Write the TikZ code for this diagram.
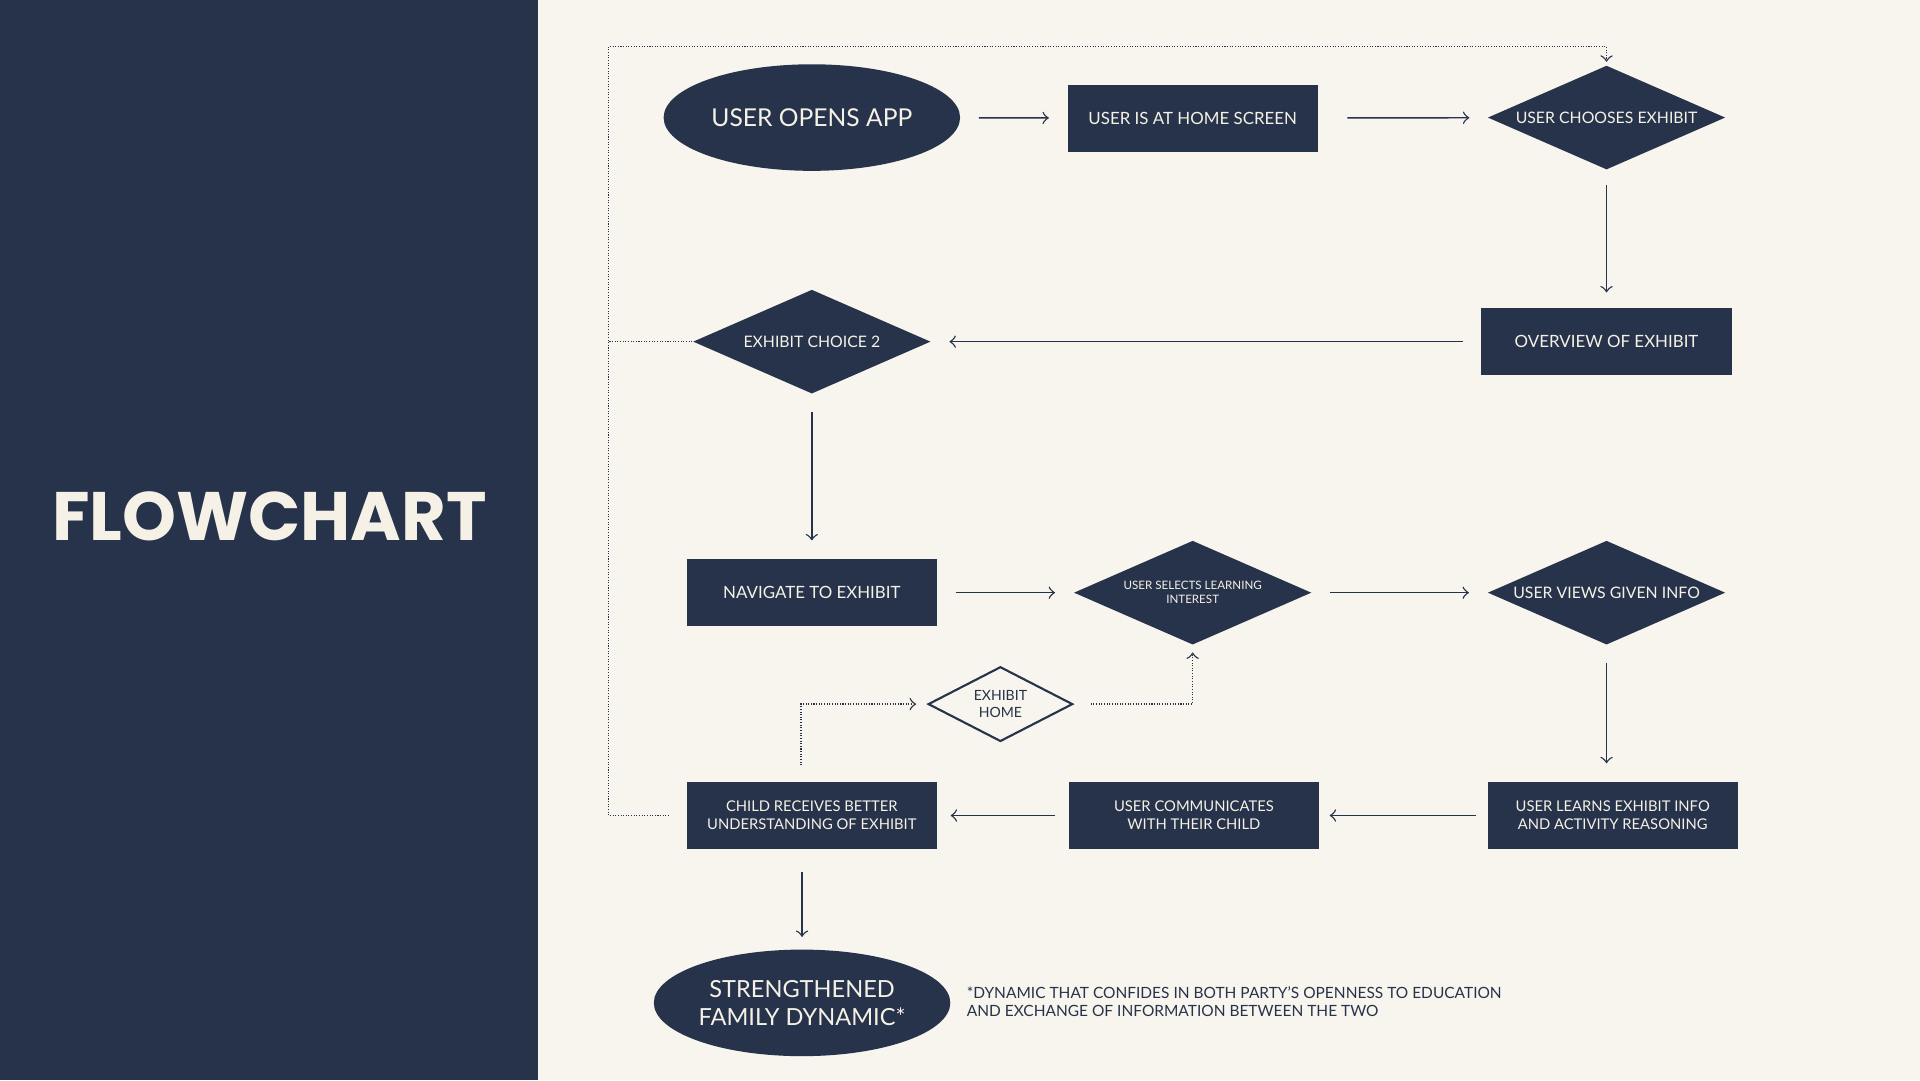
\documentclass[tikz,border=0pt]{standalone}
\usepackage{fontspec}
\setmainfont{Lato}
\newfontfamily\titlefont{Poppins}
\usetikzlibrary{shapes.geometric}
\definecolor{navy}{HTML}{26334A}
\definecolor{paper}{HTML}{F8F5EE}
\definecolor{chalk}{HTML}{F6F1E7}
\tikzset{
  box/.style={rectangle, fill=navy, text=chalk, minimum width=2.5cm, minimum height=0.67cm, inner sep=0pt, align=center, font=\fontsize{4.8}{5.8}\selectfont},
  smallbox/.style={box, font=\fontsize{4.2}{5.05}\selectfont},
  inlbl/.style={text=chalk, align=center, inner sep=0pt, font=\fontsize{4.5}{5.5}\selectfont},
  oval/.style={ellipse, fill=navy, minimum width=2.963cm, minimum height=1.065cm, inner sep=0pt, label={[inlbl, font=\fontsize{7}{8}\selectfont]center:{#1}}},
  bigoval/.style={ellipse, fill=navy, minimum width=2.963cm, minimum height=1.065cm, inner sep=0pt, label={[inlbl, font=\fontsize{6.7}{8}\selectfont]center:{#1}}},
  diashape/.style={diamond, fill=navy, minimum width=2.376cm, minimum height=1.041cm, inner sep=0pt},
  dia/.style={diashape, label={[inlbl]center:{#1}}},
  tinydia/.style={diashape, label={[inlbl, font=\fontsize{3.3}{4}\selectfont]center:{#1}}},
  homedia/.style={diamond, draw=navy, fill=paper, line width=0.6pt, minimum width=1.445cm, minimum height=0.747cm, inner sep=0pt, label={[inlbl, text=navy, font=\fontsize{4}{4.9}\selectfont]center:{#1}}},
  flow/.style={->, navy, line width=0.4pt, shorten >=0.18cm, shorten <=0.18cm},
  loopline/.style={navy, dash pattern=on 0.3pt off 0.45pt, line width=0.4pt}
}
\begin{document}
\begin{tikzpicture}[x=0.0122449cm, y=-0.0122449cm]
    \useasboundingbox (0,0) rectangle (1568,882);
    \fill[paper] (0,0) rectangle (1568,882);
    \fill[navy] (0,0) rectangle (439,882);
    \node[text=chalk, font=\titlefont\bfseries\fontsize{19.5}{24}\selectfont] (title) at (220,422) {FLOWCHART};

    % top row
    \node[oval={USER OPENS APP}] (open) at (663,96) {};
    \node[box] (homescr) at (974,96.5) {USER IS AT HOME SCREEN};
    \node[dia={USER CHOOSES EXHIBIT}] (choose) at (1312,96) {};
    \draw[flow] (open) -- (homescr);
    \draw[flow, shorten <=0.29cm] (homescr) -- (choose);

    % second row
    \node[box] (overview) at (1312,279) {OVERVIEW OF EXHIBIT};
    \node[dia={EXHIBIT CHOICE 2}] (choice) at (663,279) {};
    \draw[flow, shorten <=0.15cm, shorten >=0.15cm] (choose) -- (overview);
    \draw[flow] (overview) -- (choice);

    % third row
    \node[box] (navigate) at (663,484) {NAVIGATE TO EXHIBIT};
    \node[tinydia={USER SELECTS LEARNING\\INTEREST}] (selects) at (974,484) {};
    \node[dia={USER VIEWS GIVEN INFO}] (views) at (1312,484) {};
    \draw[flow] (choice) -- (navigate);
    \draw[flow] (navigate) -- (selects);
    \draw[flow] (selects) -- (views);

    % fourth row
    \node[smallbox] (learns) at (1317,666) {USER LEARNS EXHIBIT INFO\\AND ACTIVITY REASONING};
    \node[smallbox] (talks) at (975,666) {USER COMMUNICATES\\WITH THEIR CHILD};
    \node[smallbox] (child) at (663,666) {CHILD RECEIVES BETTER\\UNDERSTANDING OF EXHIBIT};
    \draw[flow] (views) -- (views |- learns.north);
    \draw[flow, shorten <=0.11cm, shorten >=0.1cm] (learns) -- (talks);
    \draw[flow, shorten <=0.13cm, shorten >=0.13cm] (talks) -- (child);

    % exhibit home side loop
    \node[homedia={EXHIBIT\\HOME}] (exhome) at (817,575) {};
    \coordinate (homefoot) at (654,625);
    \draw[loopline, ->, shorten >=0.11cm] (homefoot) |- (exhome.west);
    \draw[loopline, ->, shorten <=0.17cm, shorten >=0.07cm] (exhome.east) -| (selects.south);

    % outcome
    \node[bigoval={STRENGTHENED\\FAMILY DYNAMIC*}] (family) at (655,819) {};
    \draw[flow, shorten <=0.22cm, shorten >=0.12cm] (child.south -| family.north) -- (family.north);
    \node[anchor=west, text=navy, align=left, inner sep=0pt, font=\fontsize{4.4}{5.2}\selectfont] (note) at (789,818) {*DYNAMIC THAT CONFIDES IN BOTH PARTY'S OPENNESS TO EDUCATION\\AND EXCHANGE OF INFORMATION BETWEEN THE TWO};

    % dotted return loop
    \coordinate (looptop) at (497,38);
    \draw[loopline, ->, shorten <=0.17cm, shorten >=0.03cm] (child.west) -- (child.west -| looptop) -- (looptop) -- (looptop -| choose.north) -- (choose.north);
    \draw[loopline] (choice.west) -- (choice.west -| looptop);
\end{tikzpicture}
\end{document}
